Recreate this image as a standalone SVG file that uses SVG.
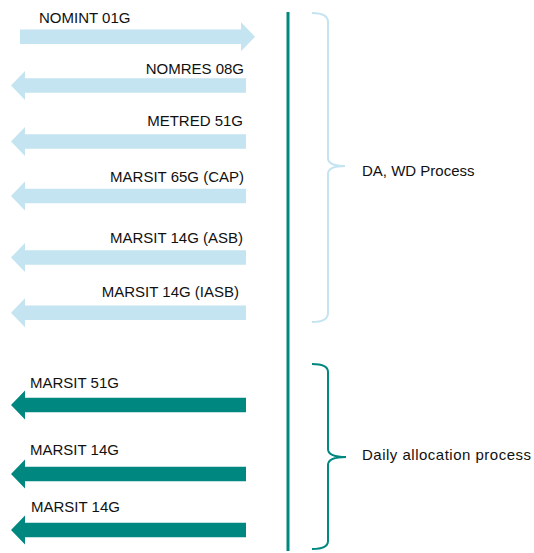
<svg xmlns="http://www.w3.org/2000/svg" xmlns:xlink="http://www.w3.org/1999/xlink" width="534" height="553" viewBox="0 0 534 553">
  <style>
    text { font-family: "Liberation Sans", Arial, sans-serif; font-size: 15px; fill: #111111; }
    .end { text-anchor: end; }
    .light { fill: #C3E4F0; }
    .teal { fill: #00877F; }
    .brace-light { fill: none; stroke: #C3E4F0; stroke-width: 2; }
    .brace-teal { fill: none; stroke: #00877F; stroke-width: 2; }
  </style>
  <defs>
    <polygon id="left-arrow" points="246,-7.2 25,-7.2 25,-14.5 11,0 25,14.5 25,7.2 246,7.2"/>
    <polygon id="right-arrow" points="20,-7.2 241,-7.2 241,-14.5 255,0 241,14.5 241,7.2 20,7.2"/>
  </defs>

  <g id="connectors">
    <line x1="288" y1="12" x2="288" y2="551" stroke="#00877F" stroke-width="3"/>
  </g>

  <g id="nomint">
    <use xlink:href="#right-arrow" class="light" transform="translate(0,36.8)"/>
    <text x="39" y="23">NOMINT 01G</text>
  </g>
  <g id="nomres">
    <use xlink:href="#left-arrow" class="light" transform="translate(0,85.5)"/>
    <text class="end" x="244" y="74">NOMRES 08G</text>
  </g>
  <g id="metred">
    <use xlink:href="#left-arrow" class="light" transform="translate(0,141.5)"/>
    <text class="end" x="243" y="125.5">METRED 51G</text>
  </g>
  <g id="marsit-cap">
    <use xlink:href="#left-arrow" class="light" transform="translate(0,196)"/>
    <text class="end" x="244" y="181.5">MARSIT 65G (CAP)</text>
  </g>
  <g id="marsit-asb">
    <use xlink:href="#left-arrow" class="light" transform="translate(0,257.5)"/>
    <text class="end" x="243" y="243">MARSIT 14G (ASB)</text>
  </g>
  <g id="marsit-iasb">
    <use xlink:href="#left-arrow" class="light" transform="translate(0,312.8)"/>
    <text class="end" x="239" y="297">MARSIT 14G (IASB)</text>
  </g>

  <g id="marsit-51g">
    <use xlink:href="#left-arrow" class="teal" transform="translate(0,405)"/>
    <text x="30" y="388">MARSIT 51G</text>
  </g>
  <g id="marsit-14g-1">
    <use xlink:href="#left-arrow" class="teal" transform="translate(0,474)"/>
    <text x="30" y="455">MARSIT 14G</text>
  </g>
  <g id="marsit-14g-2">
    <use xlink:href="#left-arrow" class="teal" transform="translate(0,530)"/>
    <text x="31" y="512">MARSIT 14G</text>
  </g>

  <g id="da-wd-process">
    <path class="brace-light" d="M312,13 Q328,13 328,22 V158 Q328,166 345,166 Q328,166 328,174 V313 Q328,322 312,322"/>
    <text x="362" y="175.5">DA, WD Process</text>
  </g>
  <g id="daily-allocation">
    <path class="brace-teal" d="M312,364 Q328,364 328,372 V449 Q328,457 346,457 Q328,457 328,465 V541 Q328,549 312,549"/>
    <text x="362" y="460" textLength="169" lengthAdjust="spacing">Daily allocation process</text>
  </g>
</svg>
